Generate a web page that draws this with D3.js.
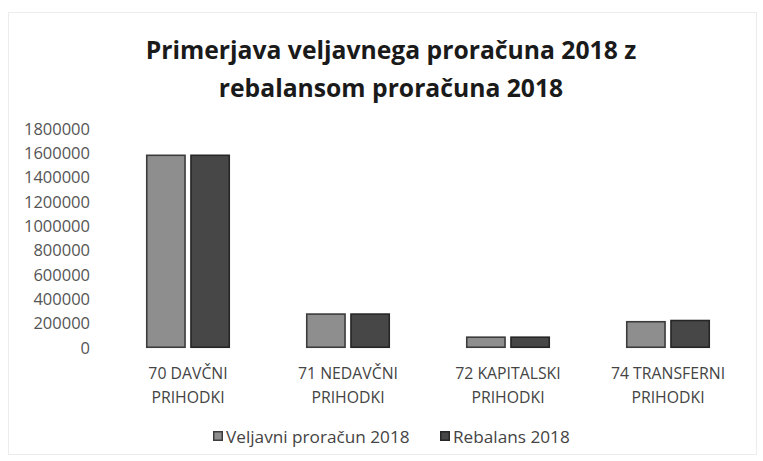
<!DOCTYPE html>
<html>
<head>
<meta charset="utf-8">
<script src="https://cdn.jsdelivr.net/npm/d3@7"></script>
<style>
  html,body{margin:0;padding:0;background:#fff;}
  svg{display:block;font-family:"Open Sans",sans-serif;}
</style>
</head>
<body>
<div id="chart"></div>
<script>
const categories=[["70 DAVČNI","PRIHODKI"],["71 NEDAVČNI","PRIHODKI"],["72 KAPITALSKI","PRIHODKI"],["74 TRANSFERNI","PRIHODKI"]];
const seriesNames=["Veljavni proračun 2018","Rebalans 2018"];
const veljavni=[1590000,285000,95000,222000];
const rebalans=[1590000,285000,95000,232000];
const yTicks=[0,200000,400000,600000,800000,1000000,1200000,1400000,1600000,1800000];
const titleLines=["Primerjava veljavnega proračuna 2018 z","rebalansom proračuna 2018"];

const W=763,H=461;
const fills=["#8e8e8e","#474747"];
const strokes=["#3c3c3c","#262626"];

const svg=d3.select("#chart").append("svg").attr("width",W).attr("height",H);

// faint chart frame
svg.append("rect").attr("x",8.5).attr("y",12.5).attr("width",748).attr("height",442)
  .attr("fill","none").attr("stroke","#ececec");

svg.selectAll(".title").data(titleLines).join("text")
  .attr("x",391).attr("y",(d,i)=>59+i*38)
  .attr("text-anchor","middle")
  .attr("font-size",24.7).attr("font-weight",700).attr("fill","#1a1a1a")
  .text(d=>d);

const y=d3.scaleLinear().domain([0,1800000]).range([348,129]);
const x0=d3.scaleBand().domain(d3.range(categories.length)).range([108,748]);
const x1=d3.scaleBand().domain([0,1]).range([38,x0.bandwidth()-38]).paddingInner(0.1);

svg.append("g").attr("transform","translate(96,0)")
  .call(d3.axisLeft(y).tickValues(yTicks).tickSize(0).tickPadding(6).tickFormat(d3.format("d")))
  .call(g=>g.select(".domain").remove())
  .call(g=>g.selectAll("text").attr("font-size",16.5).attr("fill","#555").attr("font-family","Open Sans, sans-serif"));

const rows=categories.map((c,i)=>[veljavni[i],rebalans[i]]);
const grp=svg.selectAll(".grp").data(rows).join("g")
  .attr("transform",(d,i)=>`translate(${x0(i)},0)`);
grp.selectAll("rect").data(d=>d).join("rect")
  .attr("x",(d,j)=>x1(j)+0.75)
  .attr("width",x1.bandwidth()-1.5)
  .attr("y",d=>y(d)+0.75)
  .attr("height",d=>y(0)-y(d)-1.5)
  .attr("fill",(d,j)=>fills[j])
  .attr("stroke",(d,j)=>strokes[j])
  .attr("stroke-width",1.6);

const lab=svg.selectAll(".cat").data(categories).join("text")
  .attr("text-anchor","middle").attr("font-size",15.8).attr("fill","#444")
  .attr("x",(d,i)=>x0(i)+x0.bandwidth()/2).attr("y",379);
lab.selectAll("tspan").data(d=>d).join("tspan")
  .attr("x",function(){return this.parentNode.getAttribute("x");})
  .attr("dy",(d,i)=>i?24:0)
  .text(d=>d);

const leg=svg.append("g").attr("transform","translate(213,437)");
const legX=[0,227];
seriesNames.forEach((s,j)=>{
  leg.append("rect").attr("x",legX[j]+0.75).attr("y",-5.25).attr("width",8.5).attr("height",8.5)
    .attr("fill",fills[j]).attr("stroke",strokes[j]).attr("stroke-width",1.5);
  leg.append("text").attr("x",legX[j]+13).attr("y",5.5).attr("font-size",17.2).attr("fill","#444").text(s);
});
</script>
</body>
</html>
